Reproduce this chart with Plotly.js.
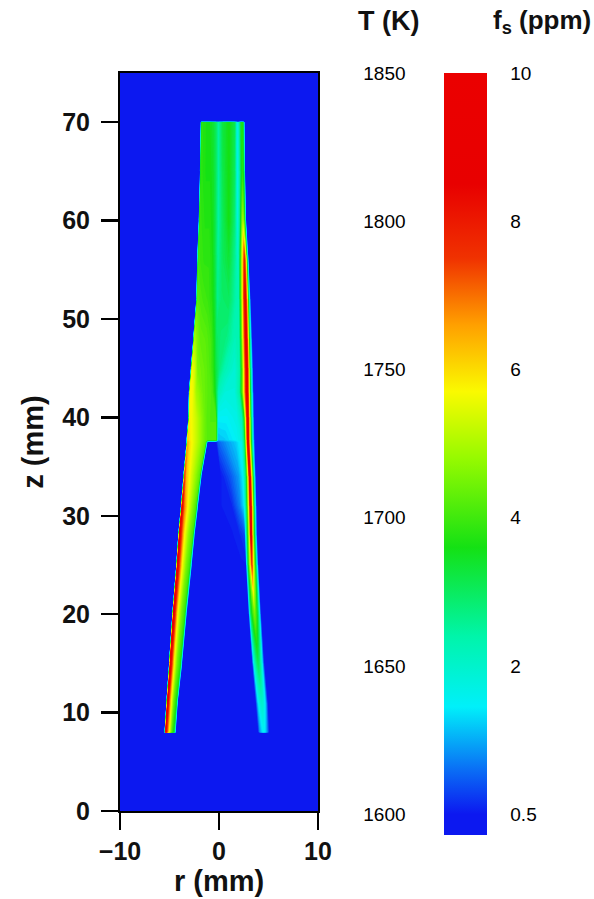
<!DOCTYPE html>
<html>
<head>
<meta charset="utf-8">
<script src="https://cdn.plot.ly/plotly-3.0.1.min.js"></script>
<style>
  html, body { margin: 0; padding: 0; background: #fff; }
  #plot { width: 594px; height: 899px; }
</style>
</head>
<body>
<div id="plot"></div>
<script>
// Axis ticks (mm)
const rTicks = [-10, 0, 10];
const zTicks = [0, 10, 20, 30, 40, 50, 60, 70];

// Soot volume fraction scale (ppm)
const fsTickVals = [0, 2, 4, 6, 8, 10];
const fsTickText = ['0.5', '2', '4', '6', '8', '10'];
const fsMin = -0.28;
const fsMax = 10;

// Temperature scale shown beside the colour bar (K)
const tempTicks = [1600, 1650, 1700, 1750, 1800, 1850];

// Soot field on a curvilinear grid: one row per height z (mm); each row has the
// same 20 radial nodes (outer air, left wing, core, right wing, outer air).
// The first two and last two rows are soot-free air below and above the flame.
const stationZ = [-1, 7.95, 8, 11, 15, 20, 25, 28, 31, 34, 37.5, 37.7, 40, 42.5, 45, 48, 52, 56, 60, 65, 70, 70.05, 76];

const stationR = [
  [-11, -5.5, -5.38, -5.25, -5.05, -4.8, -4.5, -4.35, -1, 0, 1.5, 3.0, 3.95, 4.15, 4.35, 4.52, 4.7, 4.88, 5.1, 11],
  [-11, -5.5, -5.38, -5.25, -5.05, -4.8, -4.5, -4.35, -1, 0, 1.5, 3.0, 3.95, 4.15, 4.35, 4.52, 4.7, 4.88, 5.1, 11],
  [-11, -5.5, -5.38, -5.25, -5.05, -4.8, -4.5, -4.35, -1, 0, 1.5, 3.0, 3.95, 4.15, 4.35, 4.52, 4.7, 4.88, 5.1, 11],
  [-11, -5.32, -5.2, -5.05, -4.85, -4.6, -4.3, -4.15, -1, 0, 1.5, 3, 3.7, 3.93, 4.13, 4.33, 4.53, 4.72, 4.95, 11],
  [-11, -5.05, -4.92, -4.75, -4.55, -4.25, -3.9, -3.7, -1, 0, 1.5, 2.8, 3.35, 3.58, 3.77, 3.95, 4.13, 4.32, 4.58, 11],
  [-11, -4.72, -4.6, -4.42, -4.2, -3.85, -3.45, -3.25, -1, 0, 1.5, 2.6, 3.0, 3.22, 3.41, 3.6, 3.79, 3.98, 4.25, 11],
  [-11, -4.32, -4.2, -4.0, -3.75, -3.35, -2.95, -2.73, -1, 0, 1.3, 2.3, 2.72, 2.95, 3.14, 3.33, 3.52, 3.7, 3.98, 11],
  [-11, -4.12, -4.0, -3.8, -3.52, -3.1, -2.65, -2.45, -1, 0, 1.3, 2.1, 2.6, 2.85, 3.08, 3.25, 3.42, 3.6, 3.85, 11],
  [-11, -3.85, -3.73, -3.52, -3.2, -2.75, -2.3, -2.1, -1, 0, 1.3, 2.1, 2.55, 2.8, 3.03, 3.2, 3.36, 3.55, 3.8, 11],
  [-11, -3.6, -3.48, -3.3, -2.95, -2.4, -1.95, -1.75, -1, 0.2, 1.1, 2.0, 2.45, 2.75, 2.97, 3.12, 3.28, 3.47, 3.72, 11],
  [-11, -3.28, -3.17, -2.95, -2.5, -1.9, -1.35, -1.15, -0.3, -0.1, 0.6, 1.7, 2.3, 2.6, 2.78, 2.93, 3.1, 3.3, 3.6, 11],
  [-11, -3.28, -3.17, -2.95, -2.5, -1.9, -1.35, -1.15, -0.3, -0.1, 0.6, 1.7, 2.3, 2.6, 2.78, 2.93, 3.1, 3.3, 3.6, 11],
  [-11, -3.1, -2.98, -2.75, -2.3, -1.7, -1.2, -0.8, -0.3, -0.1, 0.8, 1.8, 2.3, 2.55, 2.75, 2.9, 3.05, 3.25, 3.55, 11],
  [-11, -3.05, -2.93, -2.65, -2.3, -1.6, -1.1, -0.7, -0.4, -0.05, 0.6, 1.6, 2.1, 2.4, 2.65, 2.85, 3.0, 3.2, 3.5, 11],
  [-11, -2.85, -2.73, -2.45, -2.15, -1.4, -0.9, -0.6, -0.35, 0.0, 0.6, 1.6, 2.1, 2.4, 2.62, 2.82, 2.98, 3.15, 3.45, 11],
  [-11, -2.6, -2.5, -2.25, -1.9, -1.3, -0.8, -0.5, -0.25, 0.15, 0.8, 1.6, 2.05, 2.33, 2.55, 2.75, 2.92, 3.08, 3.35, 11],
  [-11, -2.3, -2.2, -1.95, -1.6, -1.1, -0.7, -0.4, -0.15, 0.3, 1.0, 1.65, 2.0, 2.28, 2.48, 2.66, 2.83, 2.98, 3.2, 11],
  [-11, -2.2, -2.1, -1.85, -1.5, -1.0, -0.65, -0.4, -0.1, 0.35, 1.0, 1.65, 1.95, 2.2, 2.4, 2.58, 2.72, 2.85, 3.0, 11],
  [-11, -2.05, -1.95, -1.7, -1.4, -0.95, -0.6, -0.35, -0.05, 0.35, 1.0, 1.6, 1.88, 2.1, 2.28, 2.42, 2.55, 2.65, 2.75, 11],
  [-11, -1.93, -1.83, -1.6, -1.3, -0.9, -0.55, -0.3, -0.05, 0.35, 1.0, 1.6, 1.85, 2.05, 2.22, 2.36, 2.47, 2.56, 2.64, 11],
  [-11, -1.85, -1.76, -1.55, -1.25, -0.85, -0.55, -0.3, -0.05, 0.35, 1.0, 1.6, 1.82, 2.0, 2.15, 2.3, 2.42, 2.5, 2.58, 11],
  [-11, -1.85, -1.76, -1.55, -1.25, -0.85, -0.55, -0.3, -0.05, 0.35, 1.0, 1.6, 1.82, 2.0, 2.15, 2.3, 2.42, 2.5, 2.58, 11],
  [-11, -1.85, -1.76, -1.55, -1.25, -0.85, -0.55, -0.3, -0.05, 0.35, 1.0, 1.6, 1.82, 2.0, 2.15, 2.3, 2.42, 2.5, 2.58, 11]
];

const stationFs = [
  [0, 0, 0, 0, 0, 0, 0, 0, 0, 0, 0, 0, 0, 0, 0, 0, 0, 0, 0, 0],
  [0, 0, 0, 0, 0, 0, 0, 0, 0, 0, 0, 0, 0, 0, 0, 0, 0, 0, 0, 0],
  [0, 0, 8.5, 7.5, 5.8, 4.3, 3.2, 0, 0, 0, 0, 0, 0, 0.9, 1.3, 1.5, 1.3, 0.8, 0, 0],
  [0, 0, 9, 7.5, 5.8, 4.4, 3.5, 0, 0, 0, 0, 0, 0, 1.3, 1.8, 2.0, 1.8, 1.2, 0, 0],
  [0, 0, 9, 7.5, 5.8, 4.5, 3.7, 0, 0, 0, 0, 0, 0, 2.0, 2.7, 3.1, 2.7, 1.8, 0, 0],
  [0, 0, 9, 7.5, 5.8, 4.6, 3.8, 0, 0, 0, 0, 0, 0, 3.0, 3.9, 4.5, 3.9, 2.8, 0, 0],
  [0, 0, 9, 7.5, 5.8, 4.6, 3.9, 0, 0, 0, 0, 0, 0, 3.3, 5.2, 7.5, 5.2, 3.4, 0, 0],
  [0, 0, 9, 7.5, 5.8, 4.7, 4.0, 0, 0, 0, 0, 0.1, 0.3, 3.0, 5.5, 9, 5.5, 3.2, 0, 0],
  [0, 0, 8.5, 7, 5.8, 4.8, 4.0, 0, 0, 0, 0.1, 0.7, 1.4, 3, 6, 9, 6, 3, 0, 0],
  [0, 0, 7.5, 6.3, 5.6, 4.8, 4.2, 0, 0, 0, 0.4, 0.9, 1.5, 3, 6, 9, 6, 3, 0, 0],
  [0, 0, 6.5, 5.9, 5.4, 4.8, 4.2, 0, 0, 0.5, 0.8, 1.2, 1.6, 3, 6, 9, 6, 3, 0, 0],
  [0, 0, 6.2, 5.8, 5.4, 4.8, 4.3, 4.2, 4.2, 1.1, 1.2, 1.5, 1.8, 3, 6, 9, 6, 3, 0, 0],
  [0, 0, 5.8, 5.6, 5.2, 4.6, 4.2, 4.1, 4.1, 1.5, 1.5, 1.7, 2.2, 3.5, 6.5, 9, 6.5, 3, 0, 0],
  [0, 0, 5.7, 5.6, 4.9, 4.4, 4.2, 4.1, 3.6, 2.2, 1.8, 1.8, 2.5, 4.5, 7, 9, 6.5, 3, 0, 0],
  [0, 0, 5.6, 5.3, 4.5, 4.3, 4.1, 3.8, 3.3, 2.8, 2.3, 1.9, 2.4, 4.5, 7, 9, 6.5, 3, 0, 0],
  [0, 0, 5.0, 4.6, 4.3, 4.2, 4.0, 3.6, 3.0, 2.8, 2.7, 2.2, 2.3, 4.5, 7, 9, 6.5, 3, 0, 0],
  [0, 0, 4.2, 4.1, 4.0, 3.9, 3.7, 3.3, 2.6, 2.9, 3.0, 2.4, 2.2, 4.5, 7, 8.8, 6.5, 3, 0, 0],
  [0, 0, 4.0, 3.9, 3.8, 3.8, 3.6, 3.2, 2.5, 3.0, 3.3, 2.5, 1.9, 4.0, 6, 8, 6, 3, 0, 0],
  [0, 0, 3.9, 3.8, 3.7, 3.7, 3.5, 3.1, 2.4, 3.0, 3.6, 2.8, 1.7, 2.6, 4.2, 5.0, 4.2, 2.5, 0, 0],
  [0, 0, 3.8, 3.7, 3.6, 3.6, 3.4, 3.0, 2.4, 3.1, 3.6, 3.0, 1.6, 2.2, 3.2, 3.8, 3.5, 2.5, 0, 0],
  [0, 0, 3.8, 3.7, 3.6, 3.5, 3.3, 3.0, 2.4, 3.2, 3.6, 3.1, 1.6, 2.1, 3.0, 3.8, 3.5, 2.5, 0, 0],
  [0, 0, 0, 0, 0, 0, 0, 0, 0, 0, 0, 0, 0, 0, 0, 0, 0, 0, 0, 0],
  [0, 0, 0, 0, 0, 0, 0, 0, 0, 0, 0, 0, 0, 0, 0, 0, 0, 0, 0, 0]
];

// Rainbow colour map: soot fraction (ppm) -> RGB
const mapValues = [0, 0.6, 1.45, 2.4, 3.6, 4.8, 5.7, 6.6, 7.5, 8.5, 10];
const mapColors = [
  [12, 24, 240], [10, 110, 245], [0, 240, 250], [0, 245, 170], [20, 225, 20],
  [150, 250, 0], [250, 250, 0], [255, 160, 0], [240, 50, 0], [232, 0, 0], [235, 0, 0]
];

function fsColor(v) {
  let rgb = mapColors[mapColors.length - 1];
  if (v <= mapValues[0]) {
    rgb = mapColors[0];
  } else {
    for (let i = 1; i < mapValues.length; i++) {
      if (v <= mapValues[i]) {
        const t = (v - mapValues[i - 1]) / (mapValues[i] - mapValues[i - 1]);
        const a = mapColors[i - 1], b = mapColors[i];
        rgb = a.map((c, j) => Math.round(c + (b[j] - c) * t));
        break;
      }
    }
  }
  return 'rgb(' + rgb.join(',') + ')';
}

const FONT = '"Liberation Sans", Arial, Helvetica, sans-serif';
const CLEAR = 'rgba(0,0,0,0)';

// Colour scale spanning the whole colour bar
const fsScale = [[0, fsColor(fsMin)]].concat(
  mapValues.map(v => [(v - fsMin) / (fsMax - fsMin), fsColor(v)])
);

// Temperature labels share the colour bar's vertical scale
const tempPerFs = (tempTicks[tempTicks.length - 1] - tempTicks[0]) /
                  (fsTickVals[fsTickVals.length - 1] - fsTickVals[0]);
const tempMin = tempTicks[0] + (fsMin - fsTickVals[0]) * tempPerFs;
const tempMax = tempTicks[0] + (fsMax - fsTickVals[0]) * tempPerFs;

const nodeIndex = stationR[0].map((_, i) => i);
const stationZGrid = stationZ.map((z, k) => stationR[k].map(() => z));

// Carpet only carries the grid geometry: no lines, grid or labels of its own
const hiddenCarpetAxis = {
  showgrid: false, showline: false, showticklabels: 'none',
  startline: false, endline: false, smoothing: 0,
  minorgridcount: 0, gridwidth: 0, linewidth: 0,
  startlinewidth: 0, endlinewidth: 0,
  gridcolor: CLEAR, linecolor: CLEAR, startlinecolor: CLEAR, endlinecolor: CLEAR,
  title: { text: '' }
};

const traces = [
  {
    type: 'carpet', carpet: 'flame',
    a: nodeIndex, b: stationZ,
    x: stationR, y: stationZGrid,
    aaxis: hiddenCarpetAxis, baxis: hiddenCarpetAxis,
    hoverinfo: 'skip'
  },
  {
    type: 'contourcarpet', carpet: 'flame',
    a: nodeIndex, b: stationZ, z: stationFs,
    autocontour: false,
    contours: { start: fsMin, end: fsMax, size: 0.1, coloring: 'fill', showlines: false },
    line: { width: 0, smoothing: 0, color: CLEAR },
    colorscale: fsScale, zauto: false, zmin: fsMin, zmax: fsMax,
    showscale: false, hoverinfo: 'skip'
  },
  // Soot fraction colour bar
  {
    type: 'scatter', x: [0], y: [-10], mode: 'markers',
    marker: {
      color: [fsMin], colorscale: fsScale, cmin: fsMin, cmax: fsMax,
      opacity: 0, showscale: true,
      colorbar: {
        x: (444 - 120) / 198, xanchor: 'left', xpad: 0,
        y: 1, yanchor: 'top', ypad: 0,
        len: 762, lenmode: 'pixels',
        thickness: 43, thicknessmode: 'pixels',
        outlinewidth: 0, borderwidth: 0,
        tickmode: 'array', tickvals: fsTickVals, ticktext: fsTickText,
        ticks: 'outside', ticklen: 20, tickcolor: CLEAR,
        tickfont: { family: FONT, size: 19, color: '#000' }
      }
    },
    hoverinfo: 'skip', showlegend: false
  },
  // Temperature labels (transparent bar)
  {
    type: 'scatter', x: [0], y: [-10], mode: 'markers',
    marker: {
      color: [tempMin], colorscale: [[0, CLEAR], [1, CLEAR]],
      cmin: tempMin, cmax: tempMax,
      opacity: 0, showscale: true,
      colorbar: {
        x: (339 - 120) / 198, xanchor: 'left', xpad: 0,
        y: 1, yanchor: 'top', ypad: 0,
        len: 762, lenmode: 'pixels',
        thickness: 1, thicknessmode: 'pixels',
        outlinewidth: 0, borderwidth: 0,
        tickmode: 'array', tickvals: tempTicks,
        ticks: 'outside', ticklen: 20, tickcolor: CLEAR,
        tickfont: { family: FONT, size: 19, color: '#000' }
      }
    },
    hoverinfo: 'skip', showlegend: false
  }
];

const axisCommon = {
  showgrid: false, zeroline: false,
  showline: true, linecolor: '#000', linewidth: 2, mirror: true,
  ticks: 'outside', ticklen: 17, tickwidth: 2.5, tickcolor: '#000',
  tickmode: 'array',
  tickfont: { family: FONT, size: 25, color: '#111', weight: 700 },
  fixedrange: true
};

const layout = {
  width: 594, height: 899,
  margin: { l: 120, r: 276, t: 73, b: 88 },
  paper_bgcolor: '#fff',
  plot_bgcolor: fsColor(0),
  font: { family: FONT, color: '#111' },
  xaxis: Object.assign({}, axisCommon, {
    range: [-10, 10], tickvals: rTicks, ticklabelstandoff: 0,
    title: { text: 'r (mm)', font: { family: FONT, size: 29, color: '#111', weight: 700 }, standoff: 0 }
  }),
  yaxis: Object.assign({}, axisCommon, {
    range: [0, 75], tickvals: zTicks, ticklabelstandoff: 6,
    title: { text: 'z (mm)', font: { family: FONT, size: 29, color: '#111', weight: 700 }, standoff: 10 }
  }),
  annotations: [
    { text: 'T (K)', xref: 'paper', yref: 'paper', x: (388 - 120) / 198, y: (811 - 21) / 738,
      xanchor: 'center', yanchor: 'middle', showarrow: false,
      font: { family: FONT, size: 27, color: '#111', weight: 700 } },
    { text: 'f<sub>s</sub> (ppm)', xref: 'paper', yref: 'paper', x: (542 - 120) / 198, y: (811 - 21) / 738,
      xanchor: 'center', yanchor: 'middle', showarrow: false,
      font: { family: FONT, size: 26, color: '#111', weight: 700 } }
  ],
  showlegend: false
};

Plotly.newPlot('plot', traces, layout, { staticPlot: true, displayModeBar: false });
</script>
</body>
</html>
